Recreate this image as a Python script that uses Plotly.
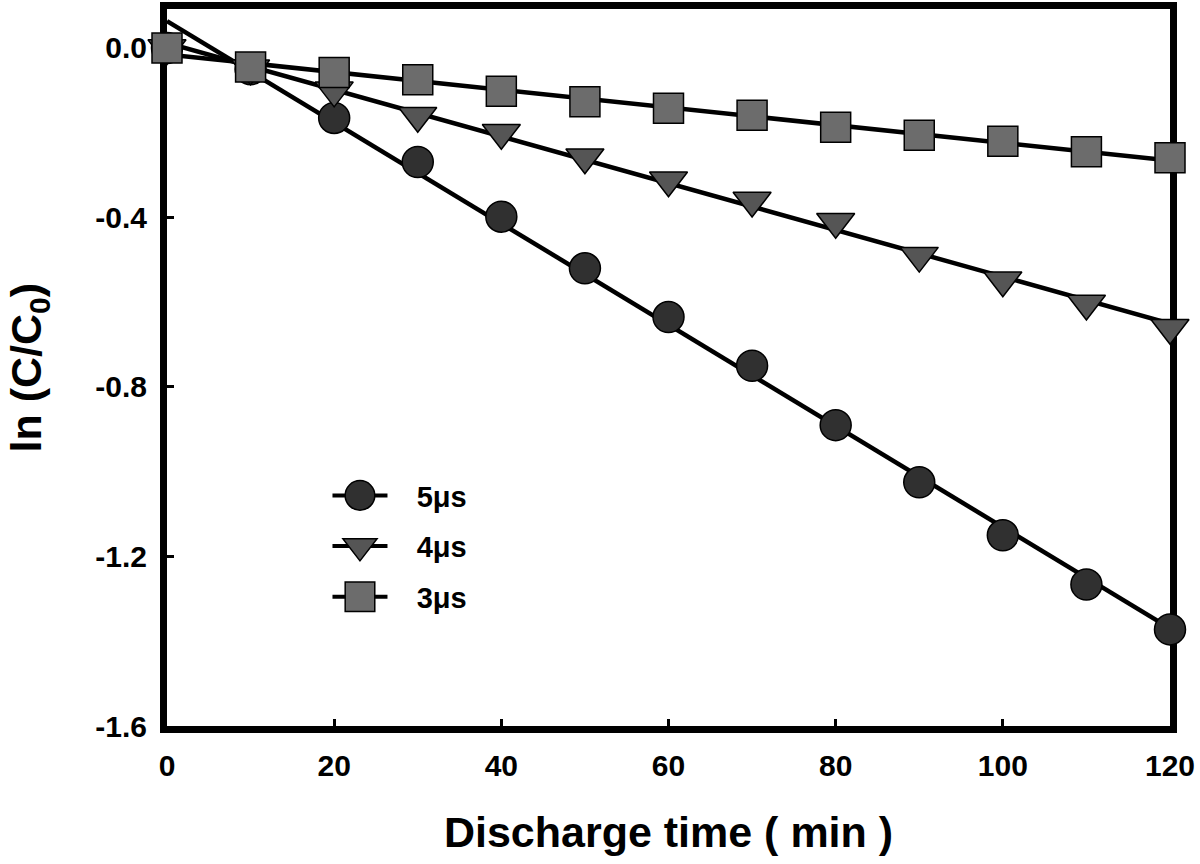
import numpy as np
import plotly.graph_objects as go

# ---- data ----
time_min = [0, 10, 20, 30, 40, 50, 60, 70, 80, 90, 100, 110, 120]
ln_5us = [0.0, -0.050, -0.165, -0.269, -0.398, -0.520, -0.635, -0.750, -0.890, -1.025, -1.150, -1.266, -1.372]
ln_4us = [0.0, -0.048, -0.100, -0.160, -0.200, -0.258, -0.312, -0.360, -0.410, -0.490, -0.548, -0.603, -0.660]
ln_3us = [0.0, -0.045, -0.058, -0.075, -0.102, -0.127, -0.142, -0.159, -0.187, -0.206, -0.220, -0.245, -0.259]

series_names = ["5μs", "4μs", "3μs"]
series_values = [ln_5us, ln_4us, ln_3us]
series_symbols = ["circle", "triangle-down", "square"]
series_colors = ["#303030", "#555555", "#6c6c6c"]
series_sizes = [31, 33, 30]

x_ticks = [0, 20, 40, 60, 80, 100, 120]
y_ticks = [0.0, -0.4, -0.8, -1.2, -1.6]
y_tick_text = ["0.0", "-0.4", "-0.8", "-1.2", "-1.6"]

FONT = "Liberation Sans, Arial, Helvetica, sans-serif"
PAD = "\u00a0\u00a0\u00a0"

fig = go.Figure()
t = np.array(time_min, dtype=float)

# linear fit lines (drawn under markers)
for vals in series_values:
    b, a = np.polyfit(t, np.array(vals), 1)
    xf = np.array([t.min(), t.max()])
    fig.add_trace(go.Scatter(x=xf, y=a + b * xf, mode="lines",
                             line=dict(color="black", width=4.5),
                             showlegend=False, hoverinfo="skip"))

# data markers
for name, vals, sym, col, sz in zip(series_names, series_values, series_symbols, series_colors, series_sizes):
    fig.add_trace(go.Scatter(x=time_min, y=vals, mode="markers", name=name,
                             marker=dict(symbol=sym, size=sz, color=col,
                                         line=dict(color="black", width=1.5)),
                             cliponaxis=False, showlegend=False))

# legend entries (line + marker)
for i, (name, sym, col) in enumerate(zip(series_names, series_symbols, series_colors)):
    fig.add_trace(go.Scatter(x=[None], y=[None], mode="lines+markers", name=PAD + name,
                             legendgroup=f"g{i}",
                             line=dict(color="black", width=4),
                             marker=dict(symbol=sym, size=30, color=col,
                                         line=dict(color="black", width=1.5))))

T_MARGIN, B_MARGIN, L_MARGIN, R_MARGIN = 9, 138, 167, 30
plot_w = 1200 - L_MARGIN - R_MARGIN

fig.update_layout(
    width=1200, height=864,
    margin=dict(l=L_MARGIN, r=R_MARGIN, t=T_MARGIN, b=B_MARGIN),
    paper_bgcolor="white", plot_bgcolor="white",
    font=dict(family=FONT, color="black"),
    showlegend=True,
    legend=dict(x=0.160, y=0.357, xanchor="left", yanchor="top",
                bgcolor="rgba(0,0,0,0)", tracegroupgap=10,
                font=dict(family=FONT, size=29, weight="bold", color="black"),
                itemwidth=55, itemsizing="trace"),
    annotations=[dict(text="ln (C/C<sub>0</sub>)", textangle=-90,
                      xref="paper", yref="paper", x=(28 - L_MARGIN) / plot_w, y=0.5,
                      xanchor="center", yanchor="middle", showarrow=False,
                      font=dict(family=FONT, size=43, weight="bold", color="black"))],
)

fig.update_xaxes(
    range=[0, 120], tickvals=x_ticks, ticktext=[str(v) for v in x_ticks],
    showgrid=False, zeroline=False, automargin=False,
    showline=True, linecolor="black", linewidth=7, mirror=True,
    ticks="inside", ticklen=7, tickwidth=3, tickcolor="black",
    tickfont=dict(family=FONT, size=30, weight="bold", color="black"),
    ticklabelstandoff=7,
    layer="below traces",
    title=dict(text="Discharge time ( min )", standoff=38,
               font=dict(family=FONT, size=43, weight="bold", color="black")),
)
fig.update_yaxes(
    range=[-1.6, 0.092], tickvals=y_ticks, ticktext=y_tick_text,
    showgrid=False, zeroline=False, automargin=False,
    showline=True, linecolor="black", linewidth=7, mirror=True,
    ticks="inside", ticklen=7, tickwidth=3, tickcolor="black",
    tickfont=dict(family=FONT, size=30, weight="bold", color="black"),
    ticklabelstandoff=7,
    layer="below traces",
)

# enlarge the legend marker glyphs (plotly caps them at 16px)
post_js = """
document.body.style.margin='0';
document.querySelectorAll('.legend .legendpoints path.scatterpts').forEach(function(p){
  var tr = p.getAttribute('transform') || '';
  p.setAttribute('transform', tr + ' scale(1.85)');
  p.style.vectorEffect = 'non-scaling-stroke';
});
"""

fig.write_html("out.html", config={"displayModeBar": False}, post_script=post_js)
